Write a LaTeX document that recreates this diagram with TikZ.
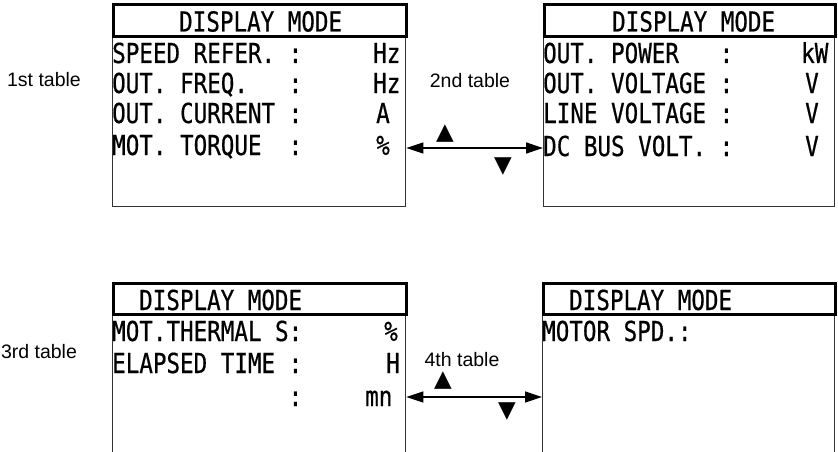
\documentclass[tikz,border=0pt]{standalone}
\usepackage{fontspec}
\usetikzlibrary{arrows.meta}
\newfontfamily\lcdfont[FakeStretch=0.82,FakeBold=0.6,WordSpace={1,0,0}]{DejaVu Sans Mono}
\newfontfamily\capfont{Liberation Sans}
\newfontfamily\keyfont{DejaVu Sans}
\tikzset{
  screen/.style={draw=black!80, line width=1.3pt, anchor=north west, inner sep=0pt},
  titlebar/.style={draw=black, line width=2.6pt, anchor=north west, inner sep=0pt},
  lcd/.style={font=\lcdfont\frenchspacing\fontsize{27.5}{29}\selectfont, inner sep=0pt, anchor=base west},
  caption/.style={font=\capfont\fontsize{19.5}{21}\selectfont, inner sep=0pt},
  key/.style={font=\keyfont\fontsize{23}{25}\selectfont, inner sep=0pt},
  link/.style={{Triangle[length=17pt,width=11pt]}-{Triangle[length=17pt,width=11pt]}, line width=1.3pt}
}
\begin{document}
\begin{tikzpicture}[x=1pt,y=-1pt]
  \clip (0,0) rectangle (838,452);
  % screens
  \node[screen, minimum width=293, minimum height=203] (s1) at (112,3) {};
  \node[screen, minimum width=291, minimum height=203] (s2) at (543,3) {};
  \node[screen, minimum width=293, minimum height=190] (s3) at (112,282) {};
  \node[screen, minimum width=292, minimum height=190] (s4) at (542,282) {};
  \node[titlebar, minimum width=293, minimum height=32] (h1) at (s1.north west) {};
  \node[titlebar, minimum width=291, minimum height=32] (h2) at (s2.north west) {};
  \node[titlebar, minimum width=293, minimum height=31] (h3) at (s3.north west) {};
  \node[titlebar, minimum width=292, minimum height=31] (h4) at (s4.north west) {};
  % 1st table
  \node[lcd] (m1) at (179,31.5) {DISPLAY MODE};
  \node[lcd] (r11) at (112,63) {SPEED REFER.~:};
  \node[lcd] (r12) at (112,93) {OUT. FREQ.~~~:};
  \node[lcd] (r13) at (112,123) {OUT. CURRENT~:};
  \node[lcd] (r14) at (112,155) {MOT. TORQUE~~:};
  \node[lcd] (u11) at (373,63) {Hz};
  \node[lcd] (u12) at (373,93) {Hz};
  \node[lcd] (u13) at (376,123) {A};
  \node[lcd] (u14) at (376,155) {\%};
  % 2nd table
  \node[lcd] (m2) at (612,31.5) {DISPLAY MODE};
  \node[lcd] (r21) at (543,63) {OUT. POWER~~~:};
  \node[lcd] (r22) at (543,93) {OUT. VOLTAGE~:};
  \node[lcd] (r23) at (543,123) {LINE VOLTAGE~:};
  \node[lcd] (r24) at (543,156) {DC BUS VOLT.~:};
  \node[lcd] (u21) at (801,63) {kW};
  \node[lcd] (u22) at (805,93) {V};
  \node[lcd] (u23) at (805,123) {V};
  \node[lcd] (u24) at (805,156) {V};
  % 3rd table
  \node[lcd] (m3) at (139,310) {DISPLAY MODE};
  \node[lcd] (r31) at (112,341) {MOT.THERMAL S:};
  \node[lcd] (r32) at (112,373) {ELAPSED TIME~:};
  \node[lcd] (r33) at (112,406) {\phantom{ELAPSED TIME~}:};
  \node[lcd] (u31) at (384,341) {\%};
  \node[lcd] (u32) at (386,373) {H};
  \node[lcd] (u33) at (365,406) {mn};
  % 4th table
  \node[lcd] (m4) at (569,310) {DISPLAY MODE};
  \node[lcd] (r41) at (542,341) {MOTOR SPD.:};
  % captions
  \node[caption] (c1) at (44,80) {1st table};
  \node[caption] (c2) at (470,81) {2nd table};
  \node[caption] (c3) at (39,352) {3rd table};
  \node[caption] (c4) at (462,360) {4th table};
  % keys and links
  \node[key] (k1) at (445,134) {▲};
  \node[key] (k2) at (503,167) {▼};
  \node[key] (k3) at (443,381) {▲};
  \node[key] (k4) at (507,412) {▼};
  \draw[link] (s1.east |- 0,148) -- (s2.west |- 0,148);
  \draw[link] (s3.east |- 0,397) -- (s4.west |- 0,397);
\end{tikzpicture}
\end{document}
